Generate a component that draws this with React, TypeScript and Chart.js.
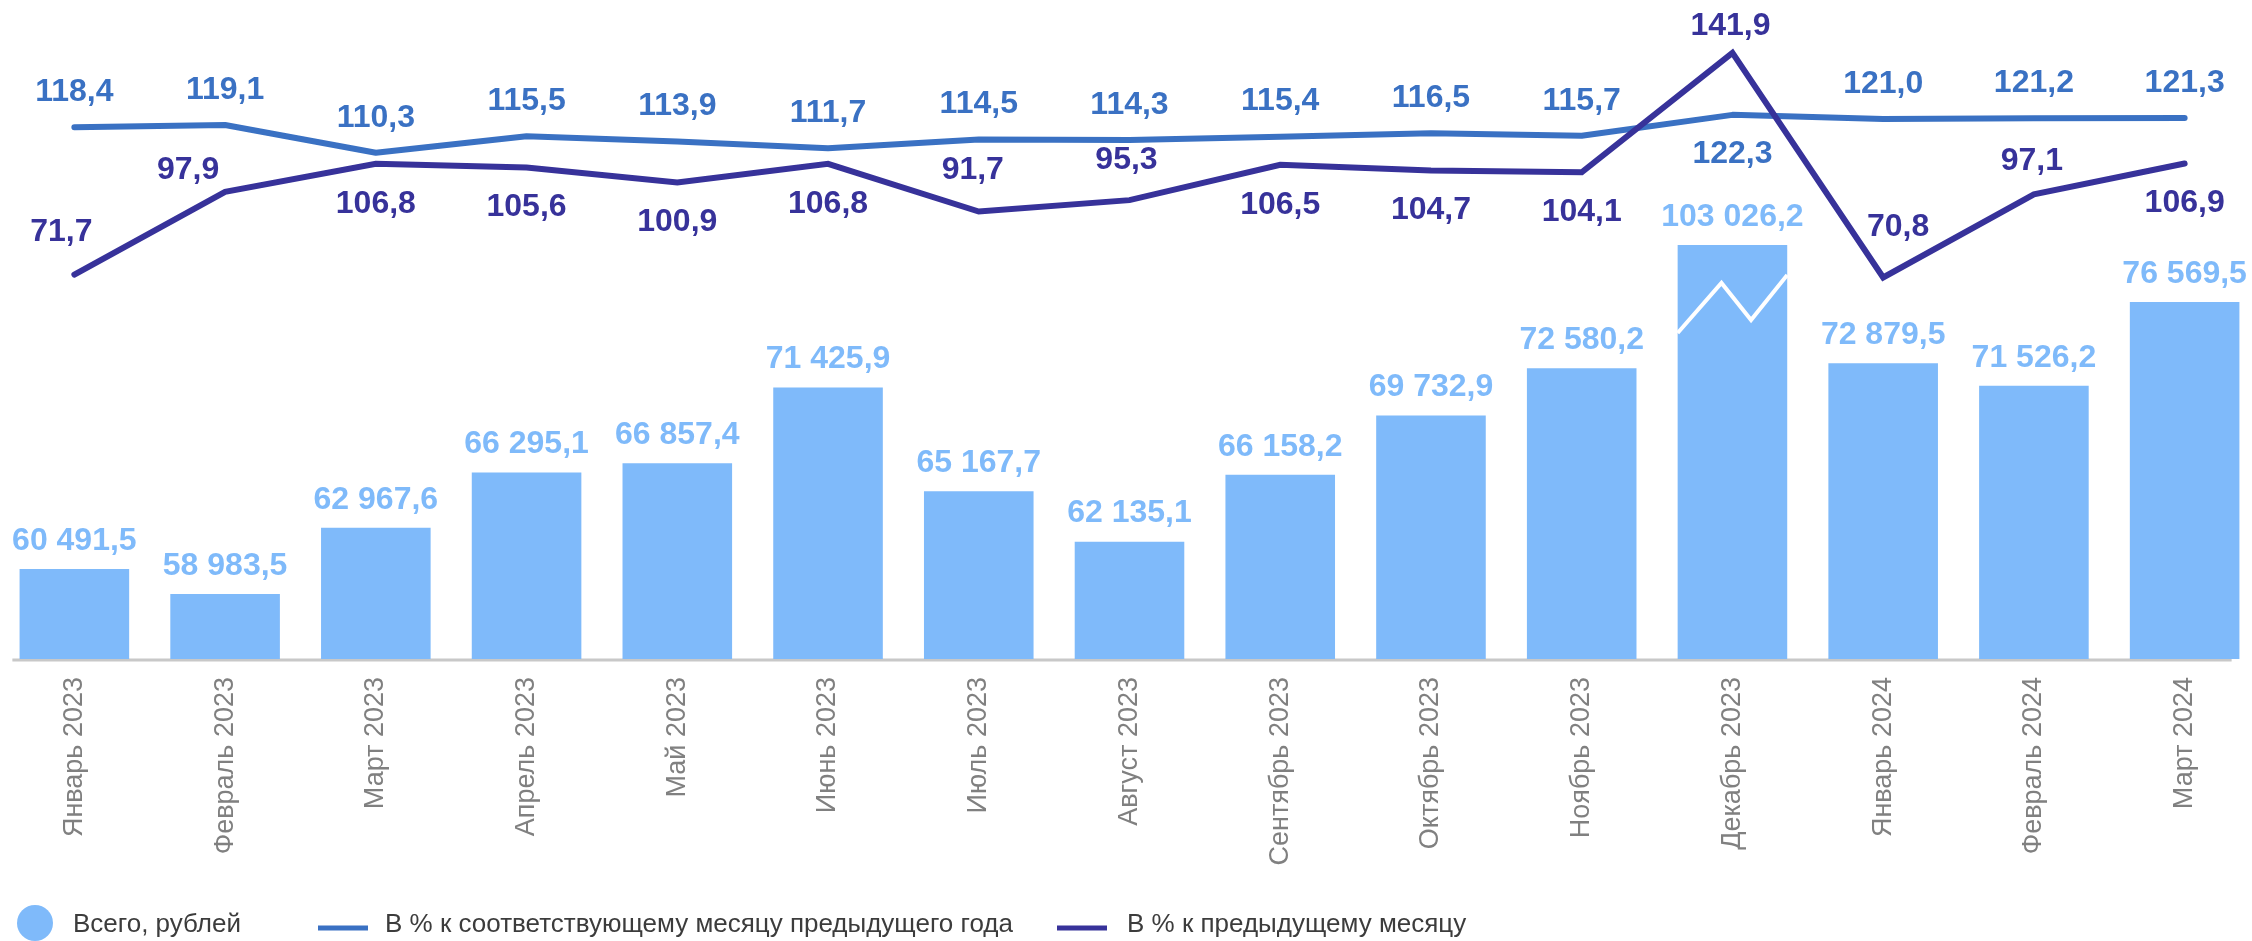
import React, { useEffect, useRef } from 'react';
import { Chart, registerables } from 'chart.js';

Chart.register(...registerables);

// ---------- data ----------
const MONTHS = [
  'Январь 2023', 'Февраль 2023', 'Март 2023', 'Апрель 2023', 'Май 2023', 'Июнь 2023',
  'Июль 2023', 'Август 2023', 'Сентябрь 2023', 'Октябрь 2023', 'Ноябрь 2023', 'Декабрь 2023',
  'Январь 2024', 'Февраль 2024', 'Март 2024',
];
const TOTAL_RUB = [
  60491.5, 58983.5, 62967.6, 66295.1, 66857.4, 71425.9, 65167.7, 62135.1,
  66158.2, 69732.9, 72580.2, 103026.2, 72879.5, 71526.2, 76569.5,
];
const PCT_YOY = [118.4, 119.1, 110.3, 115.5, 113.9, 111.7, 114.5, 114.3, 115.4, 116.5, 115.7, 122.3, 121.0, 121.2, 121.3];
const PCT_MOM = [71.7, 97.9, 106.8, 105.6, 100.9, 106.8, 91.7, 95.3, 106.5, 104.7, 104.1, 141.9, 70.8, 97.1, 106.9];
// bars above this value are drawn truncated with a break mark
const BAR_BREAK_AT = 80000;
const LEGEND_LABELS = ['Всего, рублей', 'В % к соответствующему месяцу предыдущего года', 'В % к предыдущему месяцу'];

// ---------- label placement (styling) ----------
// -1 = above the point, 1 = below
const YOY_LABEL_SIDE = [-1, -1, -1, -1, -1, -1, -1, -1, -1, -1, -1, 1, -1, -1, -1];
const MOM_LABEL_SIDE = [-1, -1, 1, 1, 1, 1, -1, -1, 1, 1, 1, -1, -1, -1, 1];
const MOM_LABEL_DX = [-13, -37, 0, 0, 0, 0, -6, -3, 0, 0, 0, -2, 15, -2, 0];
const MOM_LABEL_DY = [-7, 13, 0, 0, 0, 0, -6, -5, 0, 0, 0, 8, -15, 2, 0];

// ---------- styles ----------
const BAR_COLOR = '#7FBAFA';
const YOY_COLOR = '#3A71C3';
const MOM_COLOR = '#37329A';
const FONT = '"Liberation Sans", Arial, Helvetica, sans-serif';

function fmt(v: number): string {
  const [i, d] = v.toFixed(1).split('.');
  return i.replace(/\B(?=(\d{3})+(?!\d))/g, ' ') + ',' + d;
}

const axisLinePlugin = {
  id: 'axisLine',
  beforeDatasetsDraw(chart: any) {
    const ctx = chart.ctx;
    const meta = chart.getDatasetMeta(2);
    const first = meta.data[0];
    const last = meta.data[meta.data.length - 1];
    const y = chart.chartArea.bottom + 1;
    ctx.save();
    ctx.strokeStyle = '#C8C8C8';
    ctx.lineWidth = 3;
    ctx.beginPath();
    ctx.moveTo(first.x - 62, y);
    ctx.lineTo(last.x + 47, y);
    ctx.stroke();
    ctx.restore();
  },
};

const labelsPlugin = {
  id: 'valueLabels',
  afterDatasetsDraw(chart: any) {
    const ctx = chart.ctx;
    ctx.save();
    // break mark on truncated bars
    const barMeta = chart.getDatasetMeta(2);
    barMeta.data.forEach((el: any, i: number) => {
      if (TOTAL_RUB[i] > BAR_BREAK_AT) {
        const w = el.width;
        const left = el.x - w / 2;
        const top = el.y;
        ctx.strokeStyle = '#FFFFFF';
        ctx.lineWidth = 4;
        ctx.lineJoin = 'miter';
        ctx.beginPath();
        ctx.moveTo(left, top + 88);
        ctx.lineTo(left + w * 0.4, top + 38);
        ctx.lineTo(left + w * 0.67, top + 75);
        ctx.lineTo(left + w, top + 30);
        ctx.stroke();
      }
    });

    ctx.font = 'bold 32px ' + FONT;
    ctx.textAlign = 'center';
    ctx.textBaseline = 'middle';
    // bar labels
    ctx.fillStyle = BAR_COLOR;
    barMeta.data.forEach((el: any, i: number) => {
      ctx.fillText(fmt(TOTAL_RUB[i]), el.x, el.y - 28);
    });
    // yoy labels
    const yoyMeta = chart.getDatasetMeta(1);
    ctx.fillStyle = YOY_COLOR;
    yoyMeta.data.forEach((el: any, i: number) => {
      const off = YOY_LABEL_SIDE[i] < 0 ? -35 : 39;
      ctx.fillText(fmt(PCT_YOY[i]), el.x, el.y + off);
    });
    // mom labels
    const momMeta = chart.getDatasetMeta(0);
    ctx.fillStyle = MOM_COLOR;
    momMeta.data.forEach((el: any, i: number) => {
      const off = MOM_LABEL_SIDE[i] < 0 ? -35 : 40;
      ctx.fillText(fmt(PCT_MOM[i]), el.x + MOM_LABEL_DX[i], el.y + off + MOM_LABEL_DY[i]);
    });
    ctx.restore();
  },
};

const legendPlugin = {
  id: 'customLegend',
  afterDraw(chart: any) {
    const ctx = chart.ctx;
    ctx.save();
    ctx.font = '26px ' + FONT;
    ctx.textBaseline = 'middle';
    ctx.textAlign = 'left';
    const yText = 925;
    // item 1: circle
    ctx.fillStyle = BAR_COLOR;
    ctx.beginPath();
    ctx.arc(36, 923, 18, 0, Math.PI * 2);
    ctx.fill();
    ctx.fillStyle = '#3C3C3C';
    ctx.fillText(LEGEND_LABELS[0], 74, yText);
    // item 2: line
    ctx.strokeStyle = YOY_COLOR;
    ctx.lineWidth = 5;
    ctx.beginPath();
    ctx.moveTo(319, 928);
    ctx.lineTo(369, 928);
    ctx.stroke();
    ctx.fillStyle = '#3C3C3C';
    ctx.fillText(LEGEND_LABELS[1], 386, yText);
    // item 3: line
    ctx.strokeStyle = MOM_COLOR;
    ctx.beginPath();
    ctx.moveTo(1058, 928);
    ctx.lineTo(1108, 928);
    ctx.stroke();
    ctx.fillStyle = '#3C3C3C';
    ctx.fillText(LEGEND_LABELS[2], 1128, yText);
    ctx.restore();
  },
};

export default function App() {
  const ref = useRef<HTMLCanvasElement | null>(null);

  useEffect(() => {
    document.body.style.margin = '0';
    document.body.style.overflow = 'hidden';
    if (!ref.current) return;
    const chart = new Chart(ref.current, {
      type: 'bar',
      data: {
        labels: MONTHS,
        datasets: [
          {
            type: 'line',
            label: LEGEND_LABELS[2],
            data: PCT_MOM,
            yAxisID: 'y1',
            borderColor: MOM_COLOR,
            backgroundColor: MOM_COLOR,
            borderWidth: 6,
            pointRadius: 0,
            borderCapStyle: 'round',
            borderJoinStyle: 'miter',
            tension: 0,
            order: 1,
          } as any,
          {
            type: 'line',
            label: LEGEND_LABELS[1],
            data: PCT_YOY,
            yAxisID: 'y1',
            borderColor: YOY_COLOR,
            backgroundColor: YOY_COLOR,
            borderWidth: 6,
            pointRadius: 0,
            borderCapStyle: 'round',
            borderJoinStyle: 'round',
            tension: 0,
            order: 2,
          } as any,
          {
            type: 'bar',
            label: LEGEND_LABELS[0],
            data: TOTAL_RUB.map((v) => Math.min(v, BAR_BREAK_AT)),
            yAxisID: 'y',
            backgroundColor: BAR_COLOR,
            borderWidth: 0,
            categoryPercentage: 1,
            barPercentage: 0.727,
            order: 3,
          } as any,
        ],
      },
      options: {
        responsive: true,
        maintainAspectRatio: false,
        animation: false,
        layout: { padding: { top: 10, bottom: 52, left: 0, right: 0 } },
        plugins: {
          legend: { display: false },
          tooltip: { enabled: false },
        },
        scales: {
          x: {
            grid: { display: false, drawTicks: false },
            border: { display: false },
            ticks: {
              color: '#808080',
              font: { family: FONT, size: 27 },
              maxRotation: 90,
              minRotation: 90,
              padding: 18,
              autoSkip: false,
            },
            afterFit: (s: any) => {
              s.height = 230;
            },
          },
          y: { display: false, min: 55070, max: 94150 },
          y1: { display: false, min: -50, max: 155.5 },
        },
      } as any,
      plugins: [axisLinePlugin, labelsPlugin, legendPlugin],
    });
    return () => chart.destroy();
  }, []);

  return (
    <div style={{ position: 'relative', width: 2252, height: 941, overflow: 'hidden' }}>
      <div style={{ position: 'absolute', left: -1, top: 0, width: 2261, height: 941 }}>
        <canvas ref={ref} />
      </div>
    </div>
  );
}
